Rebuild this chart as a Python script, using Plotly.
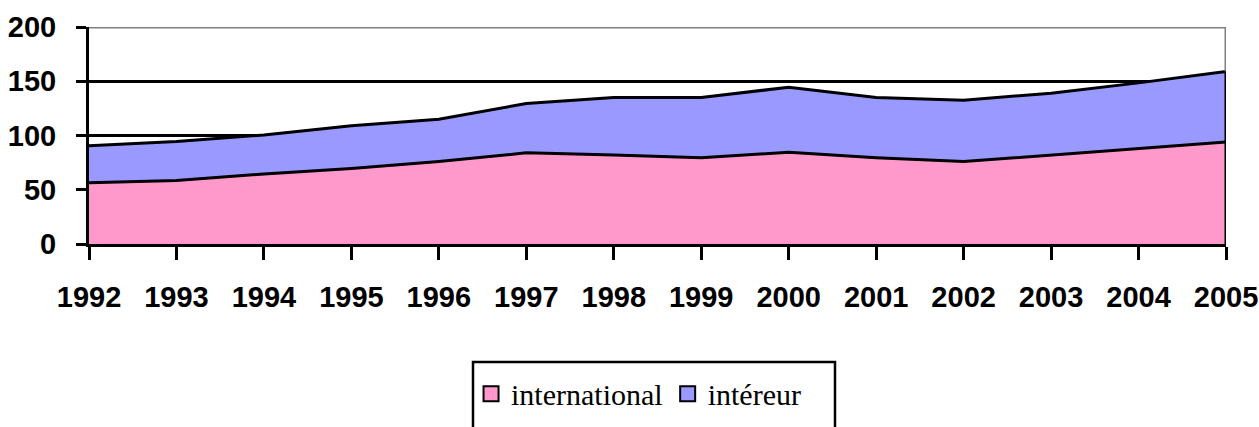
import plotly.graph_objects as go

years = list(range(1992, 2006))
international = [56.5, 58.5, 64.5, 69.5, 76, 84, 82, 79.5, 84.5, 79.5, 76, 82, 88, 94]
interieur = [34, 36, 36, 39.5, 39, 45.5, 53, 55.5, 60, 55.5, 56.5, 57, 60.5, 65]
series_names = ["international", "intéreur"]
colors = ["#FF99CC", "#9999FF"]
y_ticks = [0, 50, 100, 150, 200]

fig = go.Figure()
for name, vals, col in zip(series_names, [international, interieur], colors):
    fig.add_trace(go.Scatter(
        x=years, y=vals, name=name, stackgroup="one", mode="lines",
        line=dict(color="black", width=3), fillcolor=col, showlegend=False,
        hoverinfo="skip"))
# legend entries: bordered squares
for name, col in zip(series_names, colors):
    fig.add_trace(go.Scatter(
        x=[None], y=[None], name=name, mode="markers",
        marker=dict(symbol="square", size=15, color=col,
                    line=dict(color="black", width=2))))

totals = [a + b for a, b in zip(international, interieur)]

tick_font = dict(family="Liberation Sans, Arial, sans-serif", size=29, color="black")

fig.update_layout(
    width=1259, height=427,
    margin=dict(l=89, r=33, t=27, b=183, autoexpand=False),
    paper_bgcolor="white", plot_bgcolor="white",
    showlegend=True,
    legend=dict(orientation="h", x=0.336, xanchor="left", y=-0.57, yanchor="top",
                font=dict(family="Liberation Serif, Times New Roman, serif", size=30, color="black"),
                bgcolor="rgba(0,0,0,0)", borderwidth=0, itemwidth=30,
                traceorder="normal", itemclick=False),
    xaxis=dict(range=[years[0], years[-1]], tickvals=years,
               ticktext=[f"<b>{y}</b>" for y in years], tickangle=0,
               tickfont=tick_font, ticks="outside", ticklen=13, tickwidth=3,
               tickcolor="black", showgrid=False, zeroline=False,
               showline=True, linecolor="black", linewidth=3,
               ticklabelstandoff=12, automargin=False),
    yaxis=dict(range=[0, 200], tickvals=y_ticks,
               ticktext=[f"<b>{v}</b>" for v in y_ticks],
               tickfont=tick_font, ticks="outside", ticklen=10, tickwidth=3,
               tickcolor="black", showgrid=True, gridcolor="black", gridwidth=2.5,
               zeroline=False, showline=True, linecolor="black", linewidth=3,
               ticklabelstandoff=14, automargin=False),
    shapes=[
        dict(type="line", xref="x", yref="y", x0=years[0], x1=years[-1], y0=200, y1=200,
             line=dict(color="#808080", width=3), layer="above"),
        dict(type="line", xref="x", yref="y", x0=years[-1], x1=years[-1], y0=totals[-1], y1=200,
             line=dict(color="#808080", width=3), layer="above"),
        dict(type="line", xref="x", yref="y", x0=years[-1], x1=years[-1], y0=0, y1=totals[-1],
             line=dict(color="black", width=3), layer="above"),
        dict(type="rect", xref="paper", yref="paper",
             x0=(473 - 89) / 1137, x1=(835 - 89) / 1137,
             y0=(244 - 440) / 217, y1=(244 - 362) / 217,
             line=dict(color="black", width=2.5), fillcolor="rgba(0,0,0,0)"),
    ],
)

fig.write_html("out.html", config={"displayModeBar": False},
               post_script="document.body.style.margin='0';document.body.style.overflow='hidden';")
